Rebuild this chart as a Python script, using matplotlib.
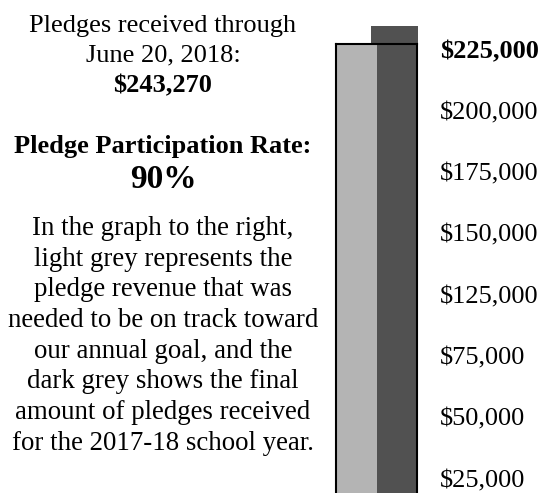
import numpy as np
import matplotlib.pyplot as plt

plt.rcParams['font.family'] = ['Liberation Serif', 'DejaVu Serif']
plt.rcParams['text.parse_math'] = False

# pledge values (dollars)
needed = 234400      # light grey: revenue needed to be on track
received = 243270    # dark grey: pledges received
box_top = 233900     # top of the outlined box

scale_labels = ['$225,000', '$200,000', '$175,000', '$150,000',
                '$125,000', '$75,000', '$50,000', '$25,000']

header = 'Pledges received through\nJune 20, 2018:'
total_text = '$243,270'
rate_title = 'Pledge Participation Rate:'
rate_value = '90%'
explain = ('In the graph to the right,\n'
           'light grey represents the\n'
           'pledge revenue that was\n'
           'needed to be on track toward\n'
           'our annual goal, and the\n'
           'dark grey shows the final\n'
           'amount of pledges received\n'
           'for the 2017-18 school year.')

W, H = 543, 493
fig = plt.figure(figsize=(W / 100, H / 100), dpi=100)

# thermometer box
ax = fig.add_axes([336 / W, 0, 81 / W, (H - 44) / H])
ax.bar(0.432, received, width=0.58, align='edge', color='#515151', clip_on=False, zorder=1)
ax.bar(-0.012, needed, width=0.518, align='edge', color='#b4b4b4', clip_on=False, zorder=1.5)
ax.set_xlim(0, 1)
ax.set_ylim(0, box_top)
ax.set_xticks([])
ax.set_yticks([])
ax.spines['bottom'].set_visible(False)
for s in ['left', 'right', 'top']:
    ax.spines[s].set_linewidth(1.5)

# scale labels on the right
label_y = np.linspace(H - 52, H - 481, len(scale_labels)) / H
for i, (lab, y) in enumerate(zip(scale_labels, label_y)):
    fig.text(440 / W, y, lab, fontsize=19, va='center', ha='left',
             fontweight='bold' if i == 0 else 'normal')

# left text block
cx = 163 / W
fig.text(cx, 1 - 15 / H, header, fontsize=19, ha='center', va='top', linespacing=1.42)
fig.text(cx, 1 - 86 / H, total_text, fontsize=19, ha='center', va='center', fontweight='bold')
fig.text(cx, 1 - 146 / H, rate_title, fontsize=19, ha='center', va='center', fontweight='bold')
fig.text(cx, 1 - 180 / H, rate_value, fontsize=24, ha='center', va='center', fontweight='bold')
fig.text(cx, 1 - 216 / H, explain, fontsize=19.4, ha='center', va='top', linespacing=1.3)

fig.savefig('out.png', dpi=100)
